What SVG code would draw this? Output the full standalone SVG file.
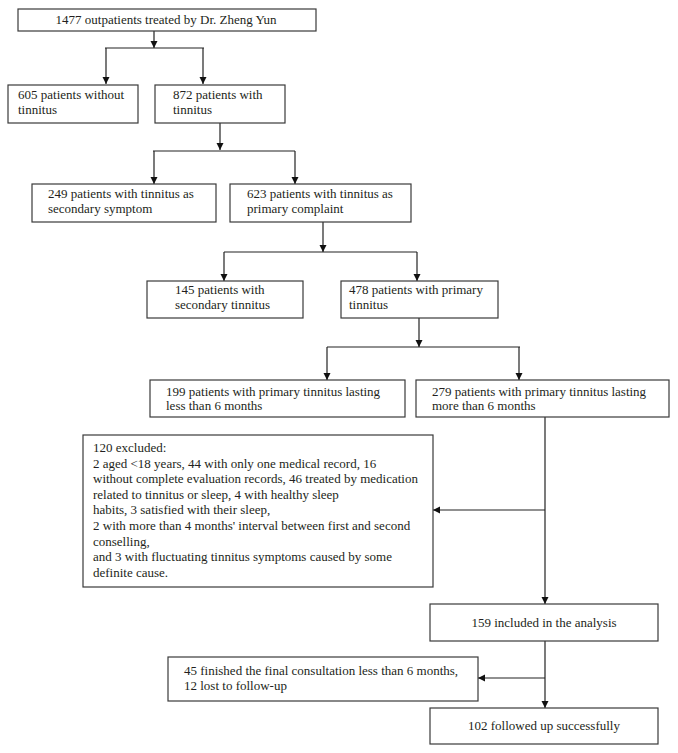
<svg xmlns="http://www.w3.org/2000/svg" width="678" height="753" viewBox="0 0 678 753">
<style>
.box{fill:#fff;stroke:#3a3a3a;stroke-width:1.2}
.t{font-family:"Liberation Serif","Times New Roman",serif;font-size:13px;fill:#231f20}
.c{text-anchor:middle}
.ln{fill:none;stroke:#222;stroke-width:1.2}
</style>
<defs>
<marker id="ah" markerUnits="userSpaceOnUse" markerWidth="8" markerHeight="8" refX="7" refY="3.5" orient="auto">
<path d="M0,0 L7,3.5 L0,7 z" fill="#111"/>
</marker>
</defs>
<rect width="678" height="753" fill="#fff"/>
<g id="connectors">
<line class="ln" x1="154" y1="31" x2="154" y2="48" marker-end="url(#ah)"/>
<line class="ln" x1="105" y1="48" x2="204" y2="48"/>
<line class="ln" x1="106" y1="48" x2="106" y2="84" marker-end="url(#ah)"/>
<line class="ln" x1="203" y1="48" x2="203" y2="84" marker-end="url(#ah)"/>
<line class="ln" x1="220" y1="123" x2="220" y2="150" marker-end="url(#ah)"/>
<line class="ln" x1="153" y1="151" x2="295" y2="151"/>
<line class="ln" x1="154" y1="151" x2="154" y2="184" marker-end="url(#ah)"/>
<line class="ln" x1="295" y1="151" x2="295" y2="184" marker-end="url(#ah)"/>
<line class="ln" x1="323" y1="222" x2="323" y2="252" marker-end="url(#ah)"/>
<line class="ln" x1="224" y1="252" x2="417" y2="252"/>
<line class="ln" x1="224" y1="252" x2="224" y2="281" marker-end="url(#ah)"/>
<line class="ln" x1="417" y1="252" x2="417" y2="281" marker-end="url(#ah)"/>
<line class="ln" x1="419" y1="318" x2="419" y2="347" marker-end="url(#ah)"/>
<line class="ln" x1="327" y1="347" x2="520" y2="347"/>
<line class="ln" x1="327" y1="347" x2="327" y2="380" marker-end="url(#ah)"/>
<line class="ln" x1="519" y1="347" x2="519" y2="380" marker-end="url(#ah)"/>
<line class="ln" x1="545" y1="417" x2="545" y2="604" marker-end="url(#ah)"/>
<line class="ln" x1="545" y1="510" x2="433" y2="510" marker-end="url(#ah)"/>
<line class="ln" x1="545" y1="641" x2="545" y2="708" marker-end="url(#ah)"/>
<line class="ln" x1="545" y1="678" x2="478" y2="678" marker-end="url(#ah)"/>
</g>
<g id="n1477">
<rect class="box" x="18" y="9" width="298" height="22"/>
<text class="t c" x="166" y="24">1477 outpatients treated by Dr. Zheng Yun</text>
</g>
<g id="n605">
<rect class="box" x="8" y="85" width="130" height="38"/>
<text class="t" x="18" y="99">605 patients without</text>
<text class="t" x="18" y="114">tinnitus</text>
</g>
<g id="n872">
<rect class="box" x="155" y="85" width="130" height="38"/>
<text class="t" x="173" y="99">872 patients with</text>
<text class="t" x="173" y="114">tinnitus</text>
</g>
<g id="n249">
<rect class="box" x="32" y="184" width="184" height="38"/>
<text class="t" x="48" y="198">249 patients with tinnitus as</text>
<text class="t" x="48" y="213">secondary symptom</text>
</g>
<g id="n623">
<rect class="box" x="230" y="184" width="181" height="38"/>
<text class="t" x="247" y="198">623 patients with tinnitus as</text>
<text class="t" x="247" y="213">primary complaint</text>
</g>
<g id="n145">
<rect class="box" x="147" y="281" width="156" height="37"/>
<text class="t" x="175" y="294">145 patients with</text>
<text class="t" x="175" y="309">secondary tinnitus</text>
</g>
<g id="n478">
<rect class="box" x="341" y="281" width="157" height="37"/>
<text class="t" x="349" y="294">478 patients with primary</text>
<text class="t" x="349" y="309">tinnitus</text>
</g>
<g id="n199">
<rect class="box" x="150" y="380" width="255" height="37"/>
<text class="t" x="166" y="396">199 patients with primary tinnitus lasting</text>
<text class="t" x="166" y="410">less than 6 months</text>
</g>
<g id="n279">
<rect class="box" x="416" y="380" width="253" height="37"/>
<text class="t" x="432" y="396">279 patients with primary tinnitus lasting</text>
<text class="t" x="432" y="410">more than 6 months</text>
</g>
<g id="n120">
<rect class="box" x="83" y="435" width="350" height="152"/>
<text class="t" x="93" y="452">120 excluded:</text>
<text class="t" x="93" y="467.6">2 aged &lt;18 years, 44 with only one medical record, 16</text>
<text class="t" x="93" y="483.2">without complete evaluation records, 46 treated by medication</text>
<text class="t" x="93" y="498.8">related to tinnitus or sleep, 4 with healthy sleep</text>
<text class="t" x="93" y="514.4">habits, 3 satisfied with their sleep,</text>
<text class="t" x="93" y="530">2 with more than 4 months' interval between first and second</text>
<text class="t" x="93" y="545.6">conselling,</text>
<text class="t" x="93" y="561.2">and 3 with fluctuating tinnitus symptoms caused by some</text>
<text class="t" x="93" y="576.8">definite cause.</text>
</g>
<g id="n159">
<rect class="box" x="430" y="604" width="228" height="37"/>
<text class="t c" x="544" y="627">159 included in the analysis</text>
</g>
<g id="n45">
<rect class="box" x="168" y="657" width="310" height="44"/>
<text class="t" x="184" y="675">45 finished the final consultation less than 6 months,</text>
<text class="t" x="184" y="690">12 lost to follow-up</text>
</g>
<g id="n102">
<rect class="box" x="430" y="708" width="228" height="36"/>
<text class="t c" x="544" y="730">102 followed up successfully</text>
</g>
</svg>
